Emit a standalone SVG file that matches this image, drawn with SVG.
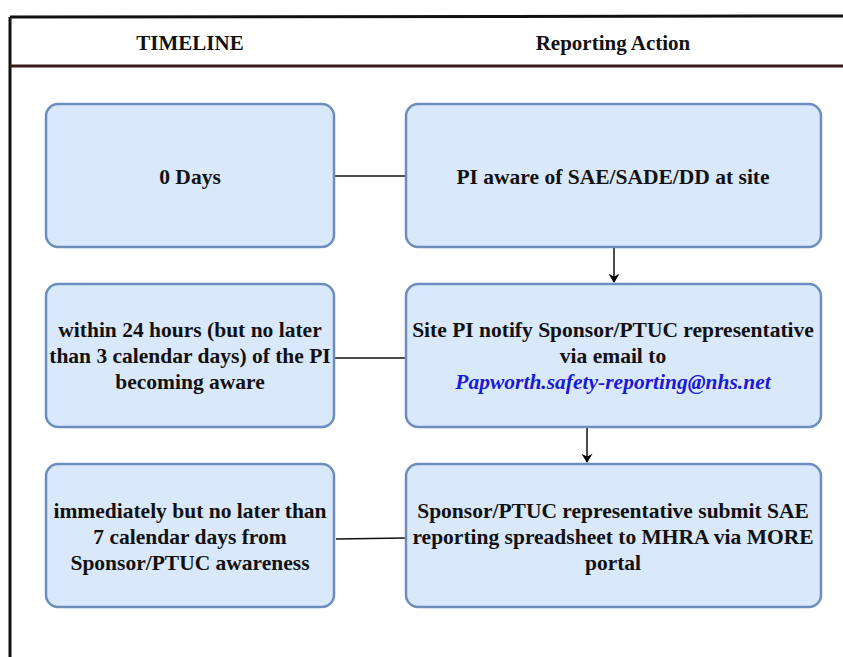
<svg xmlns="http://www.w3.org/2000/svg" width="843" height="657" viewBox="0 0 843 657">
<defs>
<marker id="arr" viewBox="0 0 10 12" refX="9" refY="6" markerWidth="12" markerHeight="11" markerUnits="userSpaceOnUse" orient="auto">
<path d="M0,0 L10,6 L0,12 L3,6 Z" fill="#000"/>
</marker>
<style>
.box{fill:#dae8fc;stroke:#6c8ebf;stroke-width:2.5}
text{font-family:'Liberation Serif','Times New Roman',serif;font-weight:bold;font-size:21.5px;fill:#111;text-anchor:middle}
.h{font-size:21px}
.em{font-style:italic;fill:#1a1ad6}
.c{stroke:#111;stroke-width:1.5;fill:none}
.frame{stroke:#111;stroke-width:3;fill:none}
</style>
</defs>
<rect x="0" y="0" width="843" height="657" fill="#fff"/>
<g id="frame">
<path class="frame" d="M10,17 L843,16"/>
<path class="frame" d="M10,17 L10,657"/>
<path d="M10,66 L843,66" stroke="#3a1a14" stroke-width="3" fill="none"/>
<text class="h" x="190" y="50">TIMELINE</text>
<text class="h" x="613" y="50">Reporting Action</text>
</g>
<g id="connectors">
<path class="c" d="M335,176 L405,176"/>
<path class="c" d="M335,358 L405,358"/>
<path class="c" d="M336,539 L405,538"/>
<path class="c" d="M614,248 L614,282" marker-end="url(#arr)"/>
<path class="c" d="M587,428 L587,462" marker-end="url(#arr)"/>
</g>
<g id="n1">
<rect class="box" x="46" y="104" width="288" height="143" rx="12"/>
<text x="190" y="184">0 Days</text>
</g>
<g id="n2">
<rect class="box" x="406" y="104" width="415" height="143" rx="12"/>
<text x="613" y="184">PI aware of SAE/SADE/DD at site</text>
</g>
<g id="n3">
<rect class="box" x="46" y="284" width="288" height="143" rx="12"/>
<text x="190" y="337">within 24 hours (but no later</text>
<text x="190" y="363">than 3 calendar days) of the PI</text>
<text x="190" y="389">becoming aware</text>
</g>
<g id="n4">
<rect class="box" x="406" y="284" width="415" height="143" rx="12"/>
<text x="613" y="337">Site PI notify Sponsor/PTUC representative</text>
<text x="613" y="363">via email to</text>
<text class="em" x="613" y="389">Papworth.safety-reporting@nhs.net</text>
</g>
<g id="n5">
<rect class="box" x="46" y="464" width="288" height="143" rx="12"/>
<text x="190" y="518">immediately but no later than</text>
<text x="190" y="544">7 calendar days from</text>
<text x="190" y="570">Sponsor/PTUC awareness</text>
</g>
<g id="n6">
<rect class="box" x="406" y="464" width="415" height="143" rx="12"/>
<text x="613" y="518">Sponsor/PTUC representative submit SAE</text>
<text x="613" y="544">reporting spreadsheet to MHRA via MORE</text>
<text x="613" y="570">portal</text>
</g>
</svg>
